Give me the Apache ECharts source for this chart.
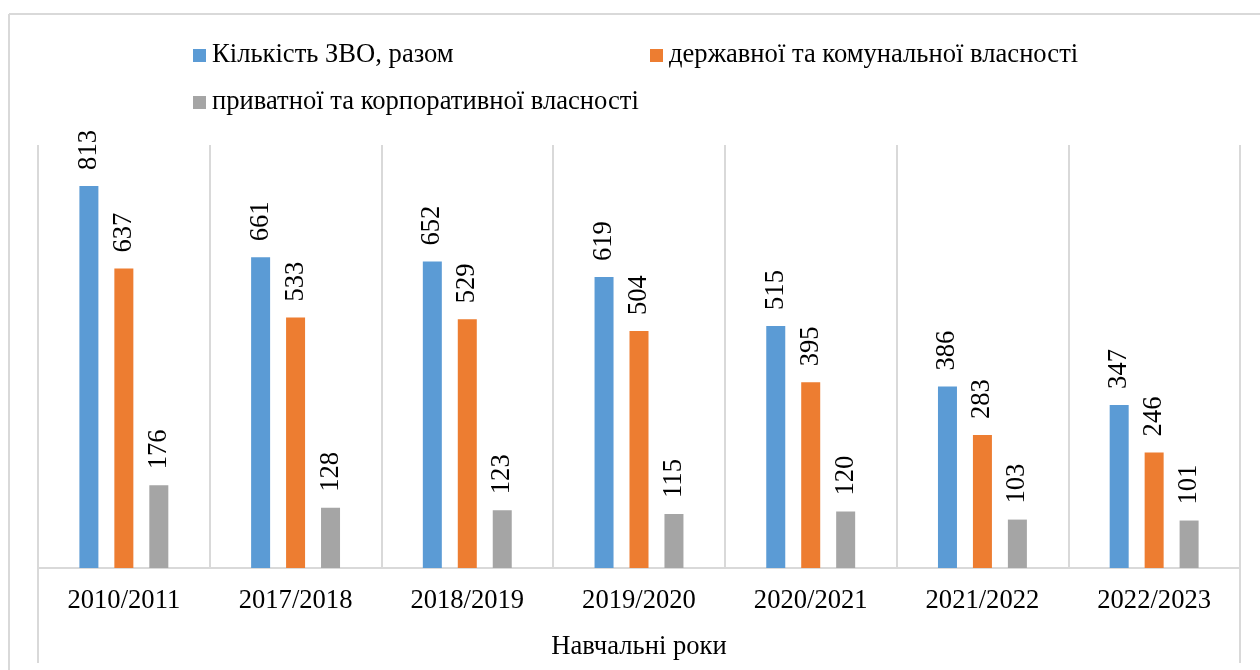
<!DOCTYPE html>
<html>
<head>
<meta charset="utf-8">
<script src="https://cdn.jsdelivr.net/npm/echarts@6/dist/echarts.min.js"></script>
<style>
  html, body { margin: 0; padding: 0; background: #fff; }
  #chart { width: 1260px; height: 670px; }
</style>
</head>
<body>
<div id="chart"></div>
<script>
// навчальні роки
var years = ['2010/2011', '2017/2018', '2018/2019', '2019/2020', '2020/2021', '2021/2022', '2022/2023'];
var seriesNames = ['Кількість ЗВО, разом', 'державної та комунальної власності', 'приватної та корпоративної власності'];
var totalVals = [813, 661, 652, 619, 515, 386, 347];
var stateVals = [637, 533, 529, 504, 395, 283, 246];
var privateVals = [176, 128, 123, 115, 120, 103, 101];
var colors = ['#5B9BD5', '#ED7D31', '#A5A5A5'];

var FONT = '"Liberation Serif", "Times New Roman", serif';
var FS = 26.6;
var lineColor = '#D9D9D9';

var chart = echarts.init(document.getElementById('chart'));

function barSeries(name, data, color) {
  return {
    name: name,
    type: 'bar',
    barWidth: 19,
    barGap: '84%',
    itemStyle: { color: color },
    label: {
      show: true,
      position: 'top',
      rotate: 90,
      align: 'left',
      verticalAlign: 'middle',
      distance: 16,
      color: '#000',
      fontFamily: FONT,
      fontSize: FS
    },
    data: data
  };
}

function legendItem(name, left, top) {
  return {
    data: [name],
    left: left,
    top: top,
    icon: 'rect',
    itemWidth: 13,
    itemHeight: 13,
    itemGap: 6,
    selectedMode: false,
    textStyle: { fontFamily: FONT, fontSize: FS, color: '#000', padding: [0, 0, 0, 1] }
  };
}

chart.setOption({
  animation: false,
  backgroundColor: '#fff',
  legend: [
    legendItem(seriesNames[0], 188, 37),
    legendItem(seriesNames[1], 645, 37),
    legendItem(seriesNames[2], 188, 84)
  ],
  grid: { left: 38, right: 20, top: 145, bottom: 102 },
  xAxis: {
    type: 'category',
    data: years,
    name: 'Навчальні роки',
    nameLocation: 'middle',
    nameGap: 66,
    nameTextStyle: { fontFamily: FONT, fontSize: FS, color: '#000' },
    axisLine: { lineStyle: { color: lineColor, width: 2 } },
    axisTick: { show: false },
    axisLabel: { fontFamily: FONT, fontSize: FS, color: '#000', margin: 20 },
    splitLine: { show: true, lineStyle: { color: lineColor, width: 2 } }
  },
  yAxis: {
    type: 'value',
    min: 0,
    max: 900,
    axisLine: { show: false },
    axisTick: { show: false },
    axisLabel: { show: false },
    splitLine: { show: false }
  },
  graphic: [
    // рамка діаграми
    { type: 'line', shape: { x1: 9, y1: 14, x2: 1260, y2: 14 }, style: { stroke: lineColor, lineWidth: 2 } },
    { type: 'line', shape: { x1: 9, y1: 14, x2: 9, y2: 670 }, style: { stroke: lineColor, lineWidth: 2 } },
    // крайні лінії області побудови
    { type: 'line', shape: { x1: 38, y1: 145, x2: 38, y2: 663 }, style: { stroke: lineColor, lineWidth: 2 } },
    { type: 'line', shape: { x1: 1240, y1: 145, x2: 1240, y2: 663 }, style: { stroke: lineColor, lineWidth: 2 } }
  ],
  series: [
    barSeries(seriesNames[0], totalVals, colors[0]),
    barSeries(seriesNames[1], stateVals, colors[1]),
    barSeries(seriesNames[2], privateVals, colors[2])
  ]
});
</script>
</body>
</html>
